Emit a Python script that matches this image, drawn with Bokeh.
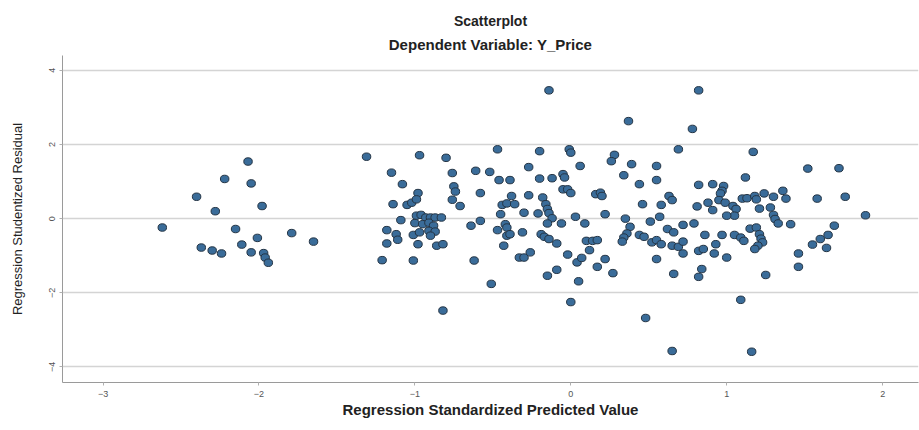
from bokeh.plotting import figure
from bokeh.models import Title, FixedTicker, Range1d, ColumnDataSource
from bokeh.embed import file_html
from bokeh.resources import INLINE

title_text = "Scatterplot"
subtitle_text = "Dependent Variable: Y_Price"
x_label = "Regression Standardized Predicted Value"
y_label = "Regression Studentized Residual"
x_ticks = [-3, -2, -1, 0, 1, 2]
y_ticks = [-4, -2, 0, 2, 4]

predicted = [
    -2.62, -2.40, -2.22, -2.07, -2.05, -2.28, -1.98, -2.15, -2.01, -2.37, -2.30, -2.24, -2.11, -2.05, -1.97, -1.96, -1.94, -1.79, -1.65,
    -1.31, -0.97, -0.80, -1.15, -1.08, -0.76, -0.75, -0.74, -0.76, -0.71, -0.98, -1.14, -1.05, -1.02, -0.99, -1.09, -0.99, -0.96, -0.93,
    -0.90, -0.87, -0.83, -1.00, -0.95, -0.91, -0.88, -1.18, -1.12, -1.11, -1.18, -1.01, -0.97, -0.91, -0.87, -0.90, -0.98, -0.86, -0.82,
    -1.21, -1.01, -0.82,
    -0.58, -0.61, -0.52, -0.47, -0.46, -0.39, -0.27, -0.20, -0.14, -0.01, 0.00, 0.06, -0.20, -0.12, -0.05, -0.04, -0.05, -0.02, 0.00,
    -0.27, -0.38, -0.44, -0.41, -0.36, -0.45, -0.30, -0.21, -0.18, -0.16, -0.15, -0.14, -0.12, -0.06, -0.15, 0.03, -0.64, -0.58, -0.47,
    -0.42, -0.41, -0.41, -0.39, -0.43, -0.31, -0.19, -0.17, -0.14, -0.09, -0.33, -0.30, -0.26, -0.62, -0.51, -0.15, -0.09, -0.02, 0.04,
    0.07, 0.05, 0.00,
    0.17, 0.22, 0.27, 0.10, 0.14, 0.17, 0.12, 0.09, 0.16, 0.19, 0.20, 0.22, 0.28, 0.26, 0.34, 0.37, 0.39, 0.35, 0.38, 0.36, 0.34, 0.33,
    0.44, 0.47, 0.52, 0.55, 0.58, 0.62, 0.66, 0.72, 0.79, 0.51, 0.57, 0.46, 0.58, 0.63, 0.65, 0.55, 0.55, 0.44, 0.69, 0.78, 0.82, 0.81,
    0.82, 0.65, 0.69, 0.72, 0.72, 0.82, 0.55, 0.66, 0.84, 0.82, 0.48, 0.65,
    0.86, 0.91, 0.98, 0.97, 0.96, 0.88, 0.91, 0.95, 0.99, 1.04, 1.06, 1.05, 1.00, 1.10, 1.13, 1.18, 1.19, 1.24, 1.30, 1.36, 1.38, 1.21,
    1.28, 1.30, 1.31, 1.33, 1.41, 1.12, 1.17, 0.97, 1.05, 1.09, 1.11, 1.15, 1.19, 1.21, 1.22, 1.23, 1.20, 1.18, 0.93, 0.92, 0.85, 1.00,
    1.25, 1.09, 1.16, 1.46, 1.46, 1.52, 1.55, 1.60,
    1.58, 1.72, 1.76, 1.89, 1.69, 1.65, 1.64,
]

residual = [
    -0.24, 0.59, 1.07, 1.54, 0.95, 0.20, 0.34, -0.28, -0.52, -0.78, -0.86, -0.94, -0.70, -0.91, -0.93, -1.05, -1.19, -0.39, -0.62,
    1.67, 1.71, 1.64, 1.24, 0.93, 1.23, 0.87, 0.73, 0.51, 0.34, 0.69, 0.39, 0.37, 0.43, 0.52, -0.04, 0.08, 0.10, 0.03,
    0.03, 0.03, 0.03, -0.12, -0.15, -0.11, -0.19, -0.31, -0.42, -0.57, -0.67, -0.44, -0.37, -0.33, -0.35, -0.46, -0.69, -0.73, -0.69,
    -1.12, -1.13, -2.48,
    0.69, 1.29, 1.26, 1.87, 1.04, 1.04, 1.39, 1.82, 3.46, 1.87, 1.78, 1.42, 1.08, 1.09, 1.20, 1.11, 0.79, 0.79, 0.69,
    0.63, 0.61, 0.37, 0.41, 0.39, 0.12, 0.16, 0.14, 0.57, 0.39, 0.26, 0.15, 0.01, -0.13, -0.13, 0.05, -0.19, -0.06, -0.31,
    -0.15, -0.24, -0.46, -0.42, -0.73, -0.37, -0.42, -0.49, -0.55, -0.67, -1.05, -1.05, -0.91, -1.13, -1.76, -1.54, -1.38, -0.97, -1.18,
    -1.06, -1.69, -2.25,
    -1.30, -1.09, -1.47, -0.60, -0.60, -0.58, -0.85, -0.13, 0.66, 0.70, 0.61, 0.12, 1.72, 1.55, 1.17, 2.63, 1.47, 0.00, -0.22, -0.40, -0.51, -0.62,
    -0.44, -0.49, -0.64, -0.58, -0.69, -0.28, -0.37, -0.17, -0.13, -0.08, 0.05, 0.39, 0.37, 0.61, 0.50, 1.42, 1.04, 0.93, 1.87, 2.42, 3.46, 0.33,
    0.91, -0.73, -0.76, -0.62, -0.94, -0.87, -1.09, -1.49, -1.36, -1.57, -2.68, -3.57,
    -0.44, 0.93, 0.88, 0.75, 0.68, 0.43, 0.23, 0.50, 0.43, 0.34, 0.26, 0.08, 0.08, 0.54, 0.55, 0.61, 0.52, 0.68, 0.59, 0.75, 0.54, 0.27,
    0.30, 0.10, -0.01, -0.13, -0.15, 1.11, 1.80, -0.44, -0.44, -0.51, -0.60, -0.27, -0.24, -0.42, -0.54, -0.64, -0.73, -0.82, -0.69, -0.94, -0.82, -1.05,
    -1.52, -2.19, -3.59, -0.94, -1.30, 1.35, -0.70, -0.55,
    0.54, 1.36, 0.59, 0.09, -0.19, -0.44, -0.79,
]

source = ColumnDataSource(data=dict(x=predicted, y=residual))

p = figure(width=919, height=430, output_backend="svg", toolbar_location=None,
           title=None,
           x_range=Range1d(-3.26, 2.23), y_range=Range1d(-4.42, 4.40),
           min_border_left=62, min_border_right=1, min_border_top=55, min_border_bottom=48)
p.outline_line_color = None
p.background_fill_color = "white"

p.ellipse(x="x", y="y", width=8.5, height=7.5, width_units="screen", height_units="screen",
          source=source, fill_color="#3a6c99", line_color="#243444", line_width=1)

p.xgrid.grid_line_color = None
p.ygrid.ticker = FixedTicker(ticks=y_ticks)
p.ygrid.grid_line_color = "#d4d4d4"
p.ygrid.grid_line_width = 1.5

p.xaxis.ticker = FixedTicker(ticks=x_ticks)
p.yaxis.ticker = FixedTicker(ticks=y_ticks)
for ax in (p.xaxis[0], p.yaxis[0]):
    ax.axis_line_color = "#9a9a9a"
    ax.major_tick_line_color = "#b0b0b0"
    ax.major_tick_out = 3
    ax.major_tick_in = 0
    ax.minor_tick_line_color = None
    ax.major_label_text_font = "Liberation Sans"
    ax.major_label_text_font_size = "9px"
    ax.major_label_text_color = "#555555"
    ax.axis_label_text_font = "Liberation Sans"
    ax.axis_label_text_color = "#222222"

p.xaxis.axis_label = x_label
p.xaxis.axis_label_text_font_size = "15px"
p.xaxis.axis_label_text_font_style = "bold"
p.xaxis.major_label_standoff = 5
p.xaxis.axis_label_standoff = 1

p.yaxis.axis_label = y_label
p.yaxis.axis_label_text_font_size = "13px"
p.yaxis.axis_label_text_font_style = "normal"
p.yaxis.major_label_orientation = "vertical"
p.yaxis.major_label_standoff = 4
p.yaxis.axis_label_standoff = 22

sub = Title(text=subtitle_text, align="center", text_font="Liberation Sans",
            text_font_size="15px", text_font_style="bold", text_color="#222222", standoff=5)
main = Title(text=title_text, align="center", text_font="Liberation Sans",
             text_font_size="14px", text_font_style="bold", text_color="#222222", standoff=6)
p.add_layout(sub, "above")
p.add_layout(main, "above")

open("out.html", "w").write(file_html(p, INLINE))
